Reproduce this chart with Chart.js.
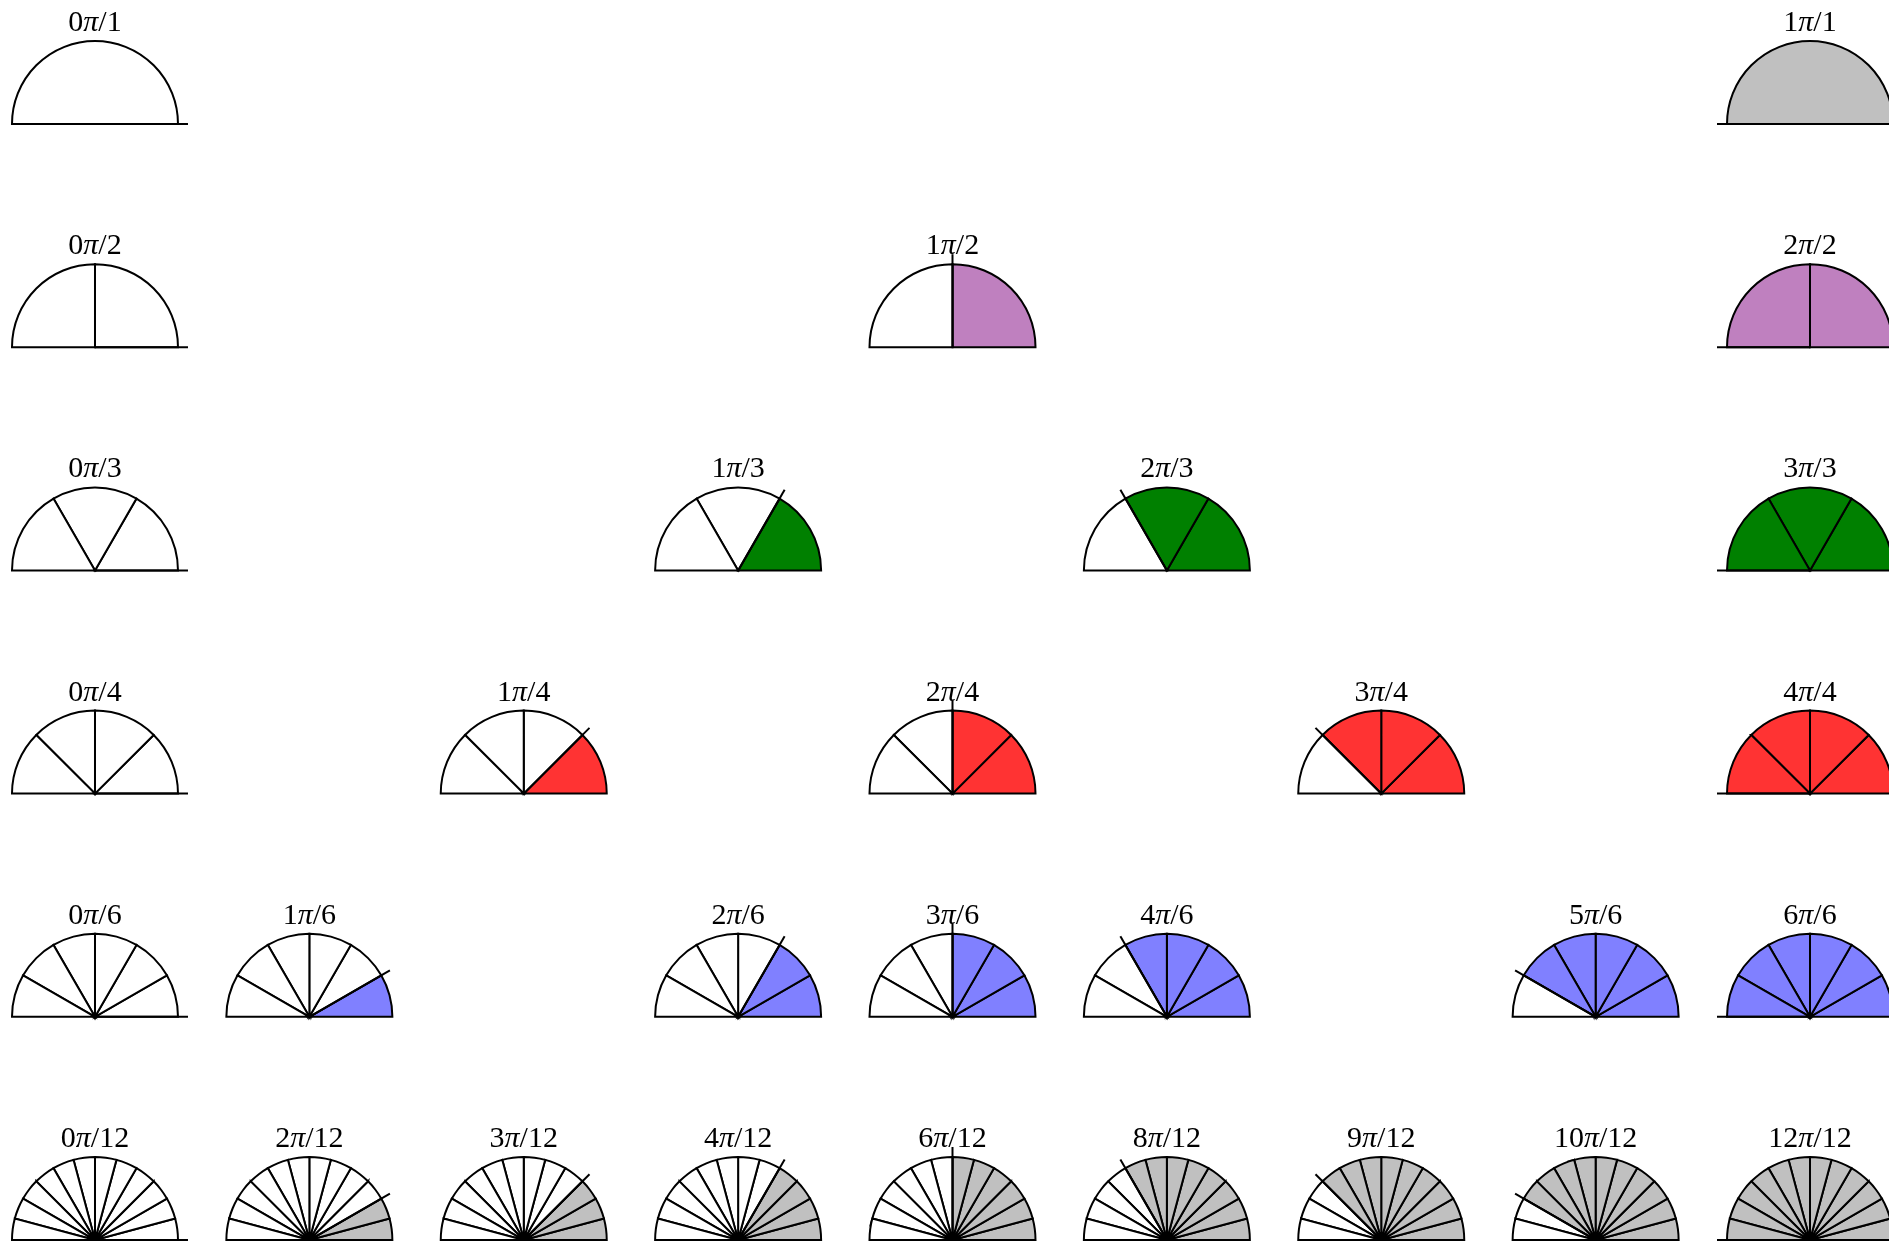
<!DOCTYPE html>
<html>
<head>
<meta charset="utf-8">
<script src="https://cdn.jsdelivr.net/npm/chart.js@4"></script>
<style>
html, body { margin: 0; padding: 0; background: #fff; overflow: hidden; }
#chart { width: 1889px; height: 1241px; }
</style>
</head>
<body>
<div id="chart"><canvas id="myChart"></canvas></div>
<script>
// one row per denominator, numerators that land on a shared column
const denominators = [1, 2, 3, 4, 6, 12];
const numerators = [
    [0, 1],
    [0, 1, 2],
    [0, 1, 2, 3],
    [0, 1, 2, 3, 4],
    [0, 1, 2, 3, 4, 5, 6],
    [0, 2, 3, 4, 6, 8, 9, 10, 12],
];
const fillColors = ["#c0c0c0", "#bf80bf", "#008000", "#ff3333", "#8080ff", "#c0c0c0"];
// distinct fractions of pi, left to right
const columnFractions = [[0, 1], [1, 6], [1, 4], [1, 3], [1, 2], [2, 3], [3, 4], [5, 6], [1, 1]];

const RADIUS = 83;
const TICK = 10;
const FONT = "30px 'Liberation Serif'";
const FONT_PI = "italic 30px 'Liberation Serif'";

function columnOf(k, n) {
    return columnFractions.findIndex(f => f[0] * n === k * f[1]);
}

const datasets = denominators.map((n, row) => ({
    label: "n=" + n,
    data: numerators[row].map(k => ({ x: columnOf(k, n), y: row, k: k, n: n })),
    pointRadius: 0,
    fill: fillColors[row],
}));

const halfPies = {
    id: "halfPies",
    afterDatasetsDraw(chart) {
        const ctx = chart.ctx;
        chart.data.datasets.forEach((ds, i) => {
            const meta = chart.getDatasetMeta(i);
            meta.data.forEach((pt, j) => {
                const d = ds.data[j];
                const cx = pt.x, cy = pt.y;
                for (let s = 0; s < d.n; s++) {
                    const arc = new Chart.ArcElement({
                        x: cx, y: cy,
                        startAngle: -(s + 1) * Math.PI / d.n,
                        endAngle: -s * Math.PI / d.n,
                        circumference: Math.PI / d.n,
                        innerRadius: 0,
                        outerRadius: RADIUS,
                        options: {
                            backgroundColor: s < d.k ? ds.fill : "#ffffff",
                            borderColor: "#000000",
                            borderWidth: 2,
                            borderAlign: "center",
                            borderJoinStyle: "miter",
                            borderRadius: 0,
                            borderDash: [],
                            borderDashOffset: 0,
                            offset: 0,
                            spacing: 0,
                            circular: true,
                        },
                    });
                    arc.draw(ctx);
                }
                // boundary tick sticking out past the rim
                const a = -d.k * Math.PI / d.n;
                ctx.save();
                ctx.strokeStyle = "#000";
                ctx.lineWidth = 2;
                ctx.beginPath();
                ctx.moveTo(cx, cy);
                ctx.lineTo(cx + Math.cos(a) * (RADIUS + TICK), cy + Math.sin(a) * (RADIUS + TICK));
                ctx.stroke();

                // label  kπ/n
                const parts = [
                    [String(d.k), FONT],
                    ["\u03c0", FONT_PI],
                    ["/" + d.n, FONT],
                ];
                let w = 0;
                parts.forEach(p => { ctx.font = p[1]; w += ctx.measureText(p[0]).width; });
                let tx = cx - w / 2;
                const ty = cy - RADIUS - 10;
                ctx.fillStyle = "#000";
                ctx.textBaseline = "alphabetic";
                ctx.textAlign = "left";
                parts.forEach(p => {
                    ctx.font = p[1];
                    ctx.fillText(p[0], tx, ty);
                    tx += ctx.measureText(p[0]).width;
                });
                ctx.restore();
            });
        });
    },
};

const ctx = document.getElementById("myChart").getContext("2d");
const myChart = new Chart(ctx, {
    type: "scatter",
    data: { datasets },
    options: {
        responsive: true,
        maintainAspectRatio: false,
        animation: false,
        layout: { padding: 0 },
        plugins: { legend: { display: false }, tooltip: { enabled: false } },
        scales: {
            x: { type: "linear", display: false, min: -0.4431, max: 8.3685 },
            y: { type: "linear", display: false, reverse: true, min: -0.5556, max: 5.0044 },
        },
    },
    plugins: [halfPies],
});
</script>
</body>
</html>
